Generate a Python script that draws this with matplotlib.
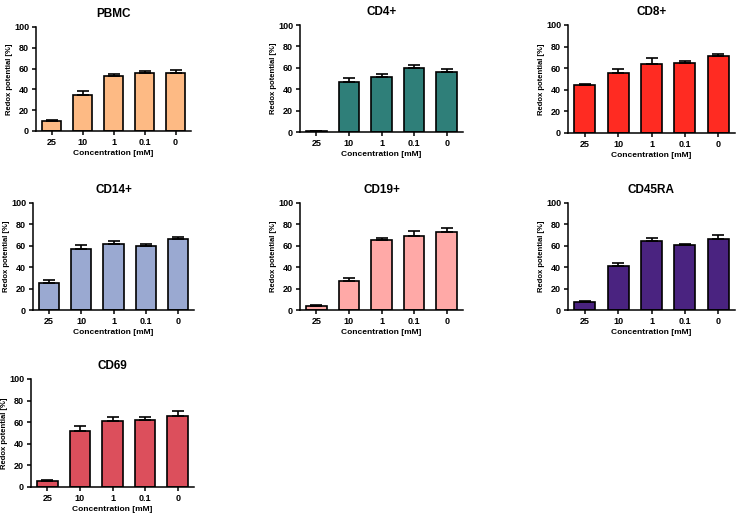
import matplotlib
matplotlib.use('Agg')
import matplotlib.pyplot as plt
import numpy as np

plt.rcParams['font.family'] = ['Liberation Sans', 'DejaVu Sans']
plt.rcParams['font.weight'] = 'bold'

concentrations = ['25', '10', '1', '0.1', '0']

pbmc = [10, 35, 53, 55.5, 56]
pbmc_err = [1, 3, 1.5, 2, 2.5]
cd4 = [0.5, 47, 51, 60, 56.5]
cd4_err = [0.5, 3.5, 3, 2.5, 2.5]
cd8 = [44, 56, 64, 65, 71.5]
cd8_err = [1.5, 3.5, 5, 1.5, 2]
cd14 = [25.5, 57, 61.5, 60, 66.5]
cd14_err = [2.5, 4, 3, 1.5, 2]
cd19 = [4, 27.5, 65.5, 69.5, 73]
cd19_err = [1, 2, 1.5, 4.5, 3.5]
cd45ra = [7.5, 41, 64.5, 60.5, 66.5]
cd45ra_err = [1, 2.5, 2.5, 1, 4]
cd69 = [5.5, 52, 61, 62, 65.5]
cd69_err = [1, 4.5, 3.5, 2.5, 4.5]

panels = [
    ('PBMC', pbmc, pbmc_err, '#FDBA84'),
    ('CD4+', cd4, cd4_err, '#2F7F79'),
    ('CD8+', cd8, cd8_err, '#FF2B22'),
    ('CD14+', cd14, cd14_err, '#9AA9D1'),
    ('CD19+', cd19, cd19_err, '#FFA9A7'),
    ('CD45RA', cd45ra, cd45ra_err, '#4A2380'),
    ('CD69', cd69, cd69_err, '#DC4F5C'),
]

W, H = 738, 515
# axes boxes in pixels: left, top, right, bottom
boxes = [
    (36, 27, 191, 131),
    (300, 25, 463, 132),
    (568, 25, 735, 133),
    (33, 203, 194, 310),
    (300, 203, 463, 310),
    (568, 203, 735, 310),
    (31, 379, 194, 487),
]

fig = plt.figure(figsize=(W / 100, H / 100), dpi=100)

for (title, vals, errs, color), (l, t, r, b) in zip(panels, boxes):
    ax = fig.add_axes([l / W, 1 - b / H, (r - l) / W, (b - t) / H])
    x = np.arange(len(concentrations))
    ax.bar(x, vals, width=0.63, color=color, edgecolor='black', linewidth=1.2, zorder=2)
    ax.errorbar(x, vals, yerr=[np.zeros(len(errs)), errs], fmt='none', ecolor='black',
                elinewidth=1.2, capsize=4, capthick=1.2, zorder=3)
    ax.set_xlim(-0.5, 4.5)
    ax.set_ylim(0, 100)
    ax.set_yticks([0, 20, 40, 60, 80, 100])
    ax.set_xticks(x)
    ax.set_xticklabels(concentrations)
    for s in ['top', 'right']:
        ax.spines[s].set_visible(False)
    for s in ['left', 'bottom']:
        ax.spines[s].set_linewidth(1.1)
    ax.tick_params(axis='both', labelsize=6.5, width=1.1, length=3, pad=2)
    ax.set_xlabel('Concentration [mM]', fontsize=6, fontweight='bold', labelpad=2)
    ax.set_ylabel('Redox potential [%]', fontsize=5.5, fontweight='bold', labelpad=1)
    ax.set_title(title, fontsize=8.5, fontweight='bold', pad=7)

fig.savefig('out.png', dpi=100)
